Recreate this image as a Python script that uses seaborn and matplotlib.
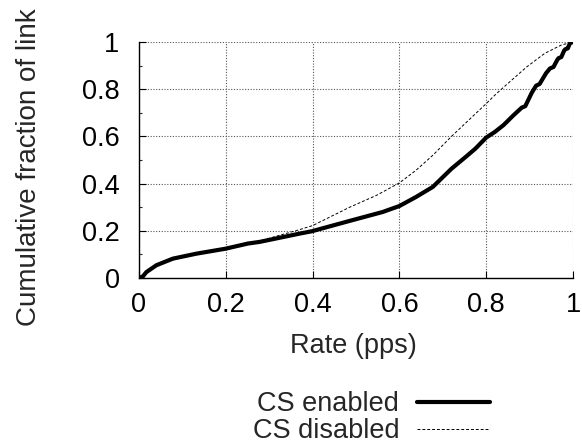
import matplotlib
matplotlib.use("Agg")
import matplotlib.pyplot as plt
from matplotlib.ticker import MultipleLocator, FuncFormatter
import pandas as pd
import seaborn as sns

# CDF of per-link delivery rate, carrier sense on vs. off
rate_enabled = [0.0, 0.009, 0.017, 0.04, 0.078, 0.132, 0.199, 0.251, 0.278, 0.37, 0.398,
                0.4855, 0.562, 0.577, 0.6, 0.638, 0.677, 0.72, 0.754, 0.775, 0.8, 0.82,
                0.84, 0.862, 0.882, 0.89, 0.905, 0.915, 0.923, 0.938, 0.947, 0.955,
                0.964, 0.967, 0.973, 0.98, 0.983, 0.988, 0.993, 1.0]
cdf_enabled = [0.0, 0.007, 0.025, 0.054, 0.082, 0.103, 0.124, 0.146, 0.153, 0.188, 0.198,
               0.242, 0.28, 0.29, 0.305, 0.343, 0.386, 0.463, 0.515, 0.548, 0.595, 0.619,
               0.648, 0.688, 0.722, 0.728, 0.785, 0.815, 0.822, 0.868, 0.888, 0.894,
               0.925, 0.932, 0.936, 0.965, 0.97, 0.973, 0.995, 1.0]

rate_disabled = [0.0, 0.009, 0.017, 0.04, 0.078, 0.132, 0.199, 0.278, 0.37, 0.4, 0.4855,
                 0.547, 0.6, 0.638, 0.677, 0.72, 0.739, 0.8, 0.82, 0.835, 0.893, 0.935,
                 0.973, 1.0]
cdf_disabled = [0.0, 0.007, 0.025, 0.054, 0.082, 0.103, 0.125, 0.157, 0.205, 0.222, 0.30,
                0.35, 0.403, 0.456, 0.52, 0.60, 0.633, 0.739, 0.775, 0.80, 0.894, 0.952,
                0.987, 1.0]

series_labels = ["CS enabled", "CS disabled"]
x_ticks = [0, 0.2, 0.4, 0.6, 0.8, 1]
y_ticks = [0, 0.2, 0.4, 0.6, 0.8, 1]

sns.set_style("ticks")
plt.rcParams["font.family"] = ["Liberation Sans", "DejaVu Sans"]
plt.rcParams["font.size"] = 19.5

fig = plt.figure(figsize=(5.82, 4.45), dpi=100)
ax = fig.add_axes([139 / 582, 1 - 278 / 445, 434 / 582, 236 / 445])

df_on = pd.DataFrame({"rate": rate_enabled, "cdf": cdf_enabled})
df_off = pd.DataFrame({"rate": rate_disabled, "cdf": cdf_disabled})

sns.lineplot(data=df_on, x="rate", y="cdf", ax=ax, sort=False, estimator=None,
             color="black", linewidth=3.0, label=series_labels[0], zorder=3)
sns.lineplot(data=df_off, x="rate", y="cdf", ax=ax, sort=False, estimator=None,
             color="black", linewidth=0.7, linestyle=(0, (3, 2)),
             label=series_labels[1], zorder=3)

ax.set_xlim(0, 1)
ax.set_ylim(0, 1)
ax.set_xticks(x_ticks)
ax.set_yticks(y_ticks)
ax.yaxis.set_minor_locator(MultipleLocator(0.1))
fmt = FuncFormatter(lambda v, _: f"{v:g}")
ax.xaxis.set_major_formatter(fmt)
ax.yaxis.set_major_formatter(fmt)

ax.tick_params(which="major", direction="in", length=5, width=0.8, pad=10,
               labelsize=19.5, colors="black")
ax.tick_params(axis="y", which="major", pad=14)
ax.tick_params(which="minor", direction="in", length=2.5, width=0.8)

ax.grid(True, which="major", linestyle=(0, (1, 1.5)), color="#555555", linewidth=0.8)
for side in ("top", "right"):
    ax.spines[side].set_visible(False)
for side in ("left", "bottom"):
    ax.spines[side].set_linewidth(1.0)
    ax.spines[side].set_color("black")
    ax.spines[side].set_zorder(4)

ax.set_xlabel("Rate (pps)", fontsize=19.5)
ax.set_ylabel("Cumulative fraction of link", fontsize=20)
ax.xaxis.set_label_coords(0.495, -0.233)
ax.yaxis.set_label_coords(-0.2235, 0.47)

ax.legend(loc="upper right", bbox_to_anchor=(490 / 582, 1 - 391 / 445),
          bbox_transform=fig.transFigure, frameon=False, markerfirst=False,
          handlelength=2.7, handletextpad=0.65, labelspacing=0.04,
          borderpad=0, borderaxespad=0, fontsize=19.5)

fig.savefig("out.png", dpi=100)
